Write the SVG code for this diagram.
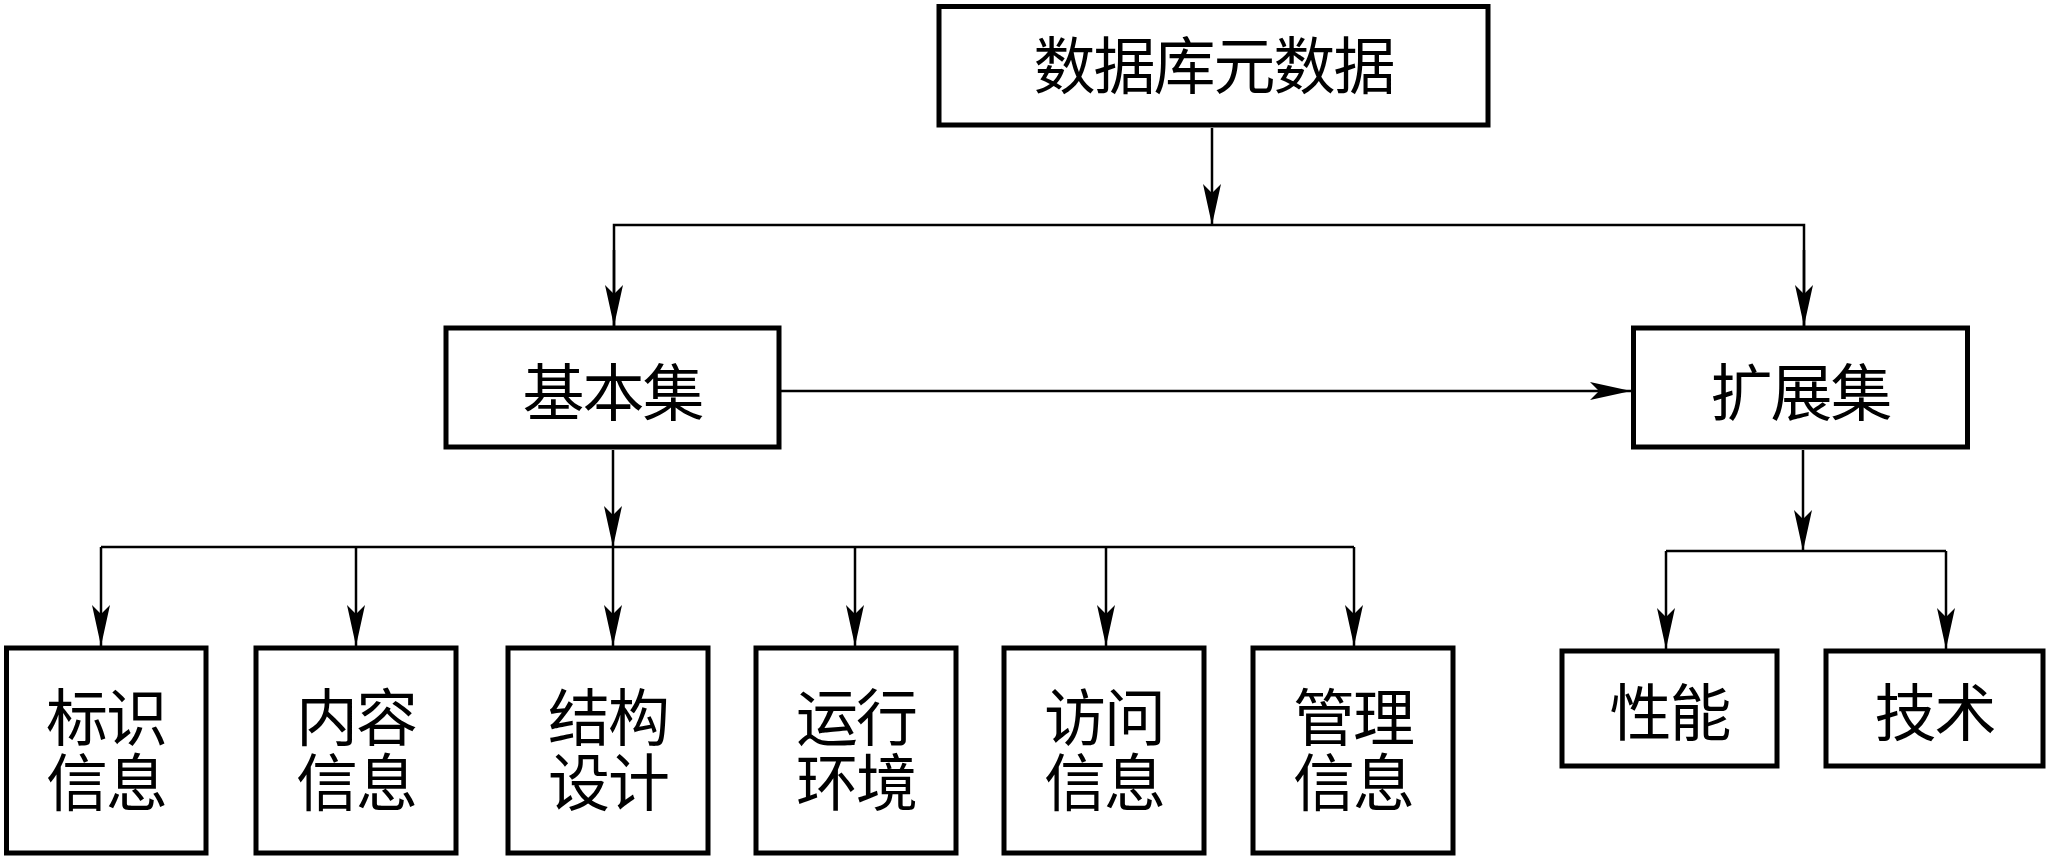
<svg xmlns="http://www.w3.org/2000/svg" width="2049" height="859" viewBox="0 0 2049 859">
  <style>
    .box { fill: #ffffff; stroke: #000000; stroke-width: 5; }
    .lbl { font-family: "Noto Sans CJK SC", "Noto Sans CJK TC", sans-serif; font-size: 62px; letter-spacing: -2px; fill: #000000; text-anchor: middle; dominant-baseline: central; }
    .conn { fill: none; stroke: #000000; stroke-width: 2.5; }
  </style>
  <defs>
    <marker id="arr" markerUnits="userSpaceOnUse" viewBox="-42 -10 44 20" refX="0" refY="0" markerWidth="44" markerHeight="20" orient="auto">
      <path d="M0,0 L-41,-9 L-32,0 L-41,9 Z" fill="#000000"/>
    </marker>
  </defs>
  <rect width="2049" height="859" fill="#ffffff"/>

  <g id="connectors">
    <line class="conn" x1="1212" y1="128" x2="1212" y2="225" marker-end="url(#arr)"/>
    <polyline class="conn" points="614,326 614,225 1804,225 1804,326"/>
    <line class="conn" x1="614" y1="250" x2="614" y2="326" marker-end="url(#arr)"/>
    <line class="conn" x1="1804" y1="250" x2="1804" y2="326" marker-end="url(#arr)"/>
    <line class="conn" x1="781" y1="391" x2="1631" y2="391" marker-end="url(#arr)"/>
    <line class="conn" x1="613" y1="450" x2="613" y2="547" marker-end="url(#arr)"/>
    <line class="conn" x1="101" y1="547" x2="1354" y2="547"/>
    <line class="conn" x1="101" y1="547" x2="101" y2="646" marker-end="url(#arr)"/>
    <line class="conn" x1="356" y1="547" x2="356" y2="646" marker-end="url(#arr)"/>
    <line class="conn" x1="613" y1="547" x2="613" y2="646" marker-end="url(#arr)"/>
    <line class="conn" x1="855" y1="547" x2="855" y2="646" marker-end="url(#arr)"/>
    <line class="conn" x1="1106" y1="547" x2="1106" y2="646" marker-end="url(#arr)"/>
    <line class="conn" x1="1354" y1="547" x2="1354" y2="646" marker-end="url(#arr)"/>
    <line class="conn" x1="1803" y1="450" x2="1803" y2="551" marker-end="url(#arr)"/>
    <line class="conn" x1="1666" y1="551" x2="1946" y2="551"/>
    <line class="conn" x1="1666" y1="551" x2="1666" y2="649" marker-end="url(#arr)"/>
    <line class="conn" x1="1946" y1="551" x2="1946" y2="649" marker-end="url(#arr)"/>
  </g>

  <g id="node-root">
    <rect class="box" x="939" y="6.5" width="549" height="118.5"/>
    <text class="lbl" x="1213.5" y="62">数据库元数据</text>
  </g>
  <g id="node-basic">
    <rect class="box" x="446" y="328" width="333" height="119"/>
    <text class="lbl" x="612.5" y="389">基本集</text>
  </g>
  <g id="node-ext">
    <rect class="box" x="1633.5" y="328" width="334" height="119"/>
    <text class="lbl" x="1800.5" y="389">扩展集</text>
  </g>

  <g id="node-ident">
    <rect class="box" x="6.5" y="648" width="199.5" height="205"/>
    <text class="lbl" x="106" y="714"><tspan x="106" y="714">标识</tspan><tspan x="106" y="779">信息</tspan></text>
  </g>
  <g id="node-content">
    <rect class="box" x="256" y="648" width="200" height="205"/>
    <text class="lbl" x="356" y="714"><tspan x="356" y="714">内容</tspan><tspan x="356" y="779">信息</tspan></text>
  </g>
  <g id="node-struct">
    <rect class="box" x="508" y="648" width="200" height="205"/>
    <text class="lbl" x="608" y="714"><tspan x="608" y="714">结构</tspan><tspan x="608" y="779">设计</tspan></text>
  </g>
  <g id="node-env">
    <rect class="box" x="756" y="648" width="200" height="205"/>
    <text class="lbl" x="856" y="714"><tspan x="856" y="714">运行</tspan><tspan x="856" y="779">环境</tspan></text>
  </g>
  <g id="node-access">
    <rect class="box" x="1004" y="648" width="200" height="205"/>
    <text class="lbl" x="1104" y="714"><tspan x="1104" y="714">访问</tspan><tspan x="1104" y="779">信息</tspan></text>
  </g>
  <g id="node-mgmt">
    <rect class="box" x="1253" y="648" width="200" height="205"/>
    <text class="lbl" x="1353" y="714"><tspan x="1353" y="714">管理</tspan><tspan x="1353" y="779">信息</tspan></text>
  </g>

  <g id="node-perf">
    <rect class="box" x="1562" y="651" width="215" height="115"/>
    <text class="lbl" x="1669.5" y="709">性能</text>
  </g>
  <g id="node-tech">
    <rect class="box" x="1826" y="651" width="217" height="115"/>
    <text class="lbl" x="1934.5" y="709">技术</text>
  </g>
</svg>
